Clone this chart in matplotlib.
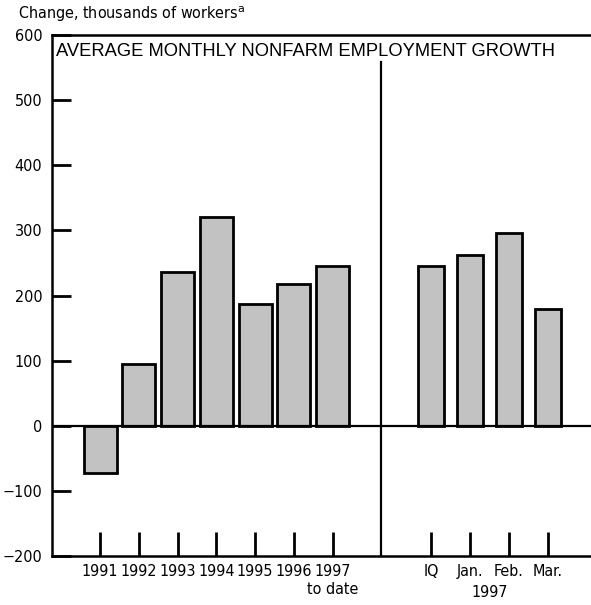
import matplotlib
matplotlib.use("Agg")
import numpy as np
from matplotlib import pyplot as plt
from matplotlib import font_manager

# annual averages and monthly 1997 values (thousands of workers)
years = ["1991", "1992", "1993", "1994", "1995", "1996", "1997\nto date"]
year_vals = [-72, 95, 236, 320, 187, 218, 245]
months = ["IQ", "Jan.", "Feb.", "Mar."]
month_vals = [245, 262, 296, 179]

fl = font_manager.fontManager.ttflist
has_cond = any(f.name == "DejaVu Sans" and f.stretch == "condensed" for f in fl)
narrow = dict(family="DejaVu Sans", stretch="condensed") if has_cond else dict(family="DejaVu Sans")

x_years = np.arange(len(years))
x_months = np.arange(len(months)) + 8.55
x_sep = 7.26

fig = plt.figure(figsize=(5.91, 6.05), dpi=100)
ax = fig.add_axes([0.088, 0.081, 0.912, 0.861])

bar_style = dict(color="#c2c2c2", edgecolor="black", linewidth=2, zorder=2)
ax.bar(x_years, year_vals, width=0.85, **bar_style)
ax.bar(x_months, month_vals, width=0.67, **bar_style)

ax.axhline(0, color="black", lw=1.6, zorder=3)
ax.plot([x_sep, x_sep], [-200, 558], color="black", lw=1.6, zorder=3)

ax.set_xlim(-1.24, 12.67)
ax.set_ylim(-200, 600)
ax.set_yticks(range(-200, 601, 100))
ax.set_yticklabels(["\u2212200", "\u2212100", "0", "100", "200", "300", "400", "500", "600"])
ax.set_xticks(list(x_years) + list(x_months))
ax.set_xticklabels(years + months)

for lab in ax.get_xticklabels() + ax.get_yticklabels():
    lab.set_fontfamily(narrow["family"])
    if has_cond:
        lab.set_fontstretch("condensed")
    lab.set_fontsize(11.5)

ax.tick_params(axis="y", direction="in", length=14, width=2, pad=7)
ax.tick_params(axis="x", direction="in", length=17, width=2, pad=6)
ax.spines["right"].set_visible(False)
for s in ["left", "bottom", "top"]:
    ax.spines[s].set_linewidth(1.8)

ax.text(0.008, 0.985, "AVERAGE MONTHLY NONFARM EMPLOYMENT GROWTH",
        transform=ax.transAxes, ha="left", va="top",
        fontsize=13.2, family="Liberation Sans")
ax.text((x_months[1] + x_months[2]) / 2, -245, "1997", ha="center", va="top",
        fontsize=11.5, **narrow)

fig.text(0.03, 0.969, "Change, thousands of workers$^{\\mathrm{a}}$",
         ha="left", va="baseline", fontsize=11.5, **narrow)

fig.savefig("out.png", dpi=100)
